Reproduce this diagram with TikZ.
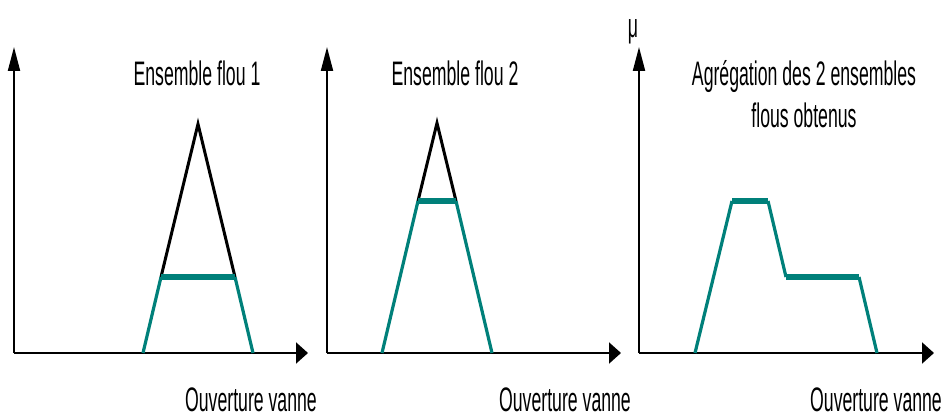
\documentclass[tikz,border=0pt]{standalone}
\usepackage{fontspec}
\newfontfamily\cond[FakeStretch=0.52]{Liberation Sans}
\usetikzlibrary{arrows.meta}
\definecolor{tealc}{RGB}{0,128,122}
\begin{document}
\begin{tikzpicture}[x=1pt,y=-1pt,
 yaxis/.style={line width=2pt,-{Triangle[length=24pt,width=12pt]}},
 xaxis/.style={line width=2pt,-{Triangle[length=12pt,width=21pt]}},
 memb/.style={line width=3.2pt,tealc,line cap=butt},
 tri/.style={line width=3pt,black,line join=miter},
 plat/.style={line width=5.5pt,tealc},
 lab/.style={font=\cond\fontsize{34}{40}\selectfont,inner sep=0pt,anchor=base}]
\useasboundingbox (0,0) rectangle (947,417);
% panel 1
\coordinate (o1) at (14,353); \coordinate (y1) at (14,47); \coordinate (x1) at (308,353);
\draw[yaxis] (o1) -- (y1);
\draw[xaxis] (o1) -- (x1);
\coordinate (a1) at (143,353); \coordinate (b1) at (161,277); \coordinate (c1) at (198,124);
\coordinate (d1) at (235,277); \coordinate (e1) at (253,353);
\draw[tri] (b1) -- (c1) -- (d1);
\draw[memb] (a1) -- (b1);
\draw[memb] (d1) -- (e1);
\draw[plat] (b1) -- (d1);
\node[lab] (t1) at (197,86) {Ensemble flou 1};
\node[lab] (v1) at (251,411) {Ouverture vanne};
% panel 2
\coordinate (o2) at (327,353); \coordinate (y2) at (327,47); \coordinate (x2) at (621,353);
\draw[yaxis] (o2) -- (y2);
\draw[xaxis] (o2) -- (x2);
\coordinate (a2) at (382,353); \coordinate (b2) at (418,201); \coordinate (c2) at (437,123);
\coordinate (d2) at (456,201); \coordinate (e2) at (492,353);
\draw[tri] (b2) -- (c2) -- (d2);
\draw[memb] (a2) -- (b2);
\draw[memb] (d2) -- (e2);
\draw[plat] (b2) -- (d2);
\node[lab] (t2) at (455,86) {Ensemble flou 2};
\node[lab] (v2) at (565,411) {Ouverture vanne};
% panel 3
\coordinate (o3) at (639,353); \coordinate (y3) at (639,47); \coordinate (x3) at (934,353);
\draw[yaxis] (o3) -- (y3);
\draw[xaxis] (o3) -- (x3);
\coordinate (p1) at (695,353); \coordinate (p2) at (732,201); \coordinate (p3) at (768,201);
\coordinate (p4) at (786,277); \coordinate (p5) at (859,277); \coordinate (p6) at (877,353);
\draw[memb] (p1) -- (p2);
\draw[memb] (p3) -- (p4);
\draw[memb] (p5) -- (p6);
\draw[plat] (p2) -- (p3);
\draw[plat] (p4) -- (p5);
\node[lab] (mu) at (633,38) {μ};
\node[lab] (t3) at (804,86) {Agrégation des 2 ensembles};
\node[lab] (t4) at (804,128) {flous obtenus};
\node[lab] (v3) at (876,411) {Ouverture vanne};
\end{tikzpicture}
\end{document}
